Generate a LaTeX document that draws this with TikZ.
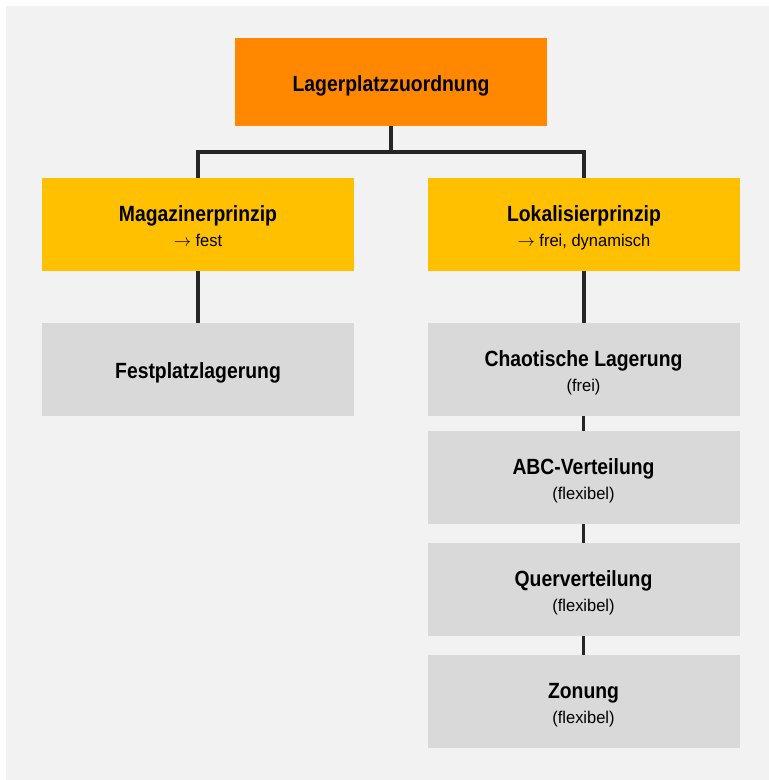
\documentclass[tikz,border=0pt]{standalone}
\usepackage{fontspec}
\newfontfamily\boldfnt{Liberation Sans}[FakeStretch=0.88]
\newfontfamily\regfnt{Liberation Sans}[FakeStretch=0.97]
\definecolor{bgc}{HTML}{F2F2F2}
\definecolor{orangec}{HTML}{FF8800}
\definecolor{yellowc}{HTML}{FFC000}
\definecolor{grayc}{HTML}{D9D9D9}
\definecolor{linec}{HTML}{262626}
\tikzset{
  box/.style={draw=none, minimum width=312pt, minimum height=93pt, inner sep=0pt},
  topbox/.style={box, fill=orangec, minimum height=88pt},
  ybox/.style={box, fill=yellowc},
  gbox/.style={box, fill=grayc},
  ttl/.style={anchor=base, inner sep=0pt, font=\boldfnt\bfseries\fontsize{22}{26}\selectfont},
  sub/.style={anchor=base, inner sep=0pt, font=\regfnt\fontsize{17}{20}\selectfont},
  conn/.style={draw=linec, line width=3.6pt}
}
\newcommand{\longarr}{$\rightarrow$}
\begin{document}
\begin{tikzpicture}[x=1pt,y=-1pt]
\useasboundingbox (0,0) rectangle (769,780);
\fill[white] (0,0) rectangle (769,780);
\fill[bgc] (6,6) rectangle (769,780);
\node[topbox] (top) at (391,82) {};
\node[ybox] (mag) at (198,224.5) {};
\node[ybox] (lok) at (584,224.5) {};
\node[gbox] (fest) at (198,369.5) {};
\node[gbox] (chao) at (583.5,369.5) {};
\node[gbox] (abc) at (583.5,477.5) {};
\node[gbox] (quer) at (583.5,589.5) {};
\node[gbox] (zon) at (583.5,701.5) {};
\coordinate (split) at (391,152);
\draw[conn] (top.south) -- (split);
\draw[conn] (mag.north) |- (split) -| (lok.north);
\draw[conn] (mag.south) -- (fest.north);
\draw[conn] (lok.south) -- (lok.south |- chao.north);
\draw[conn] (chao.south) -- (abc.north);
\draw[conn] (abc.south) -- (quer.north);
\draw[conn] (quer.south) -- (zon.north);
% texts
\node[ttl] (topt) at ([yshift=-9pt]top.center) {Lagerplatzzuordnung};
\node[ttl] (magt) at ([yshift=2.7pt]mag.center) {Magazinerprinzip};
\node[sub] (mags) at ([yshift=-21.5pt]mag.center) {\longarr\ fest};
\node[ttl] (lokt) at ([yshift=2.7pt]lok.center) {Lokalisierprinzip};
\node[sub] (loks) at ([yshift=-21.5pt]lok.center) {\longarr\ frei, dynamisch};
\node[ttl] (festt) at ([yshift=-8.8pt]fest.center) {Festplatzlagerung};
\node[ttl] (chaot) at ([yshift=2.7pt]chao.center) {Chaotische Lagerung};
\node[sub] (chaos) at ([yshift=-21.5pt]chao.center) {(frei)};
\node[ttl] (abct) at ([yshift=2.7pt]abc.center) {ABC-Verteilung};
\node[sub] (abcs) at ([yshift=-21.5pt]abc.center) {(flexibel)};
\node[ttl] (quert) at ([yshift=2.7pt]quer.center) {Querverteilung};
\node[sub] (quers) at ([yshift=-21.5pt]quer.center) {(flexibel)};
\node[ttl] (zont) at ([yshift=2.7pt]zon.center) {Zonung};
\node[sub] (zons) at ([yshift=-21.5pt]zon.center) {(flexibel)};
\end{tikzpicture}
\end{document}
